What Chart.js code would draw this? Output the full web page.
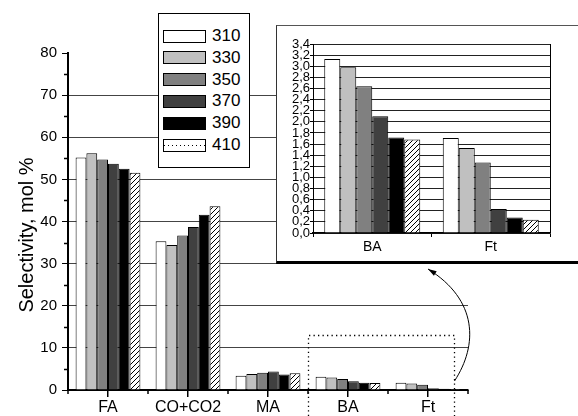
<!DOCTYPE html>
<html>
<head>
<meta charset="utf-8">
<script src="https://cdn.jsdelivr.net/npm/chart.js@4/dist/chart.umd.min.js"></script>
<style>
  html, body { margin: 0; padding: 0; background: #fff; }
  #wrap { position: relative; width: 578px; height: 416px; overflow: hidden; font-family: "Liberation Sans", Arial, sans-serif; }
  #mainChart { position: absolute; left: 0; top: 0; }
  #legend { position: absolute; left: 158px; top: 13px; width: 90px; height: 153px; background: #fff; border: 1px solid #000; }
  #legend .row { position: absolute; left: 4px; height: 20px; display: flex; align-items: center; }
  #legend .sw { display: inline-block; width: 43px; height: 13px; border: 1px solid #000; box-sizing: border-box; }
  #legend .lab { margin-left: 6px; font-size: 17px; color: #000; }
  #inset { position: absolute; left: 276px; top: 25px; width: 302px; height: 235px; background: #fff;
           border-left: 1px solid #333; border-top: 1px solid #555; border-bottom: 3px solid #000; }
  #insetChart { position: absolute; left: 0; top: 0; }
</style>
</head>
<body>
<div id="wrap">
  <canvas id="mainChart" width="578" height="416"></canvas>
  <div id="legend"></div>
  <div id="inset"><canvas id="insetChart" width="302" height="235"></canvas></div>
</div>
<script>
// data
const categories = ['FA', 'CO+CO2', 'MA', 'BA', 'Ft'];
const temps = ['310', '330', '350', '370', '390', '410'];
const s310 = [55.2, 35.3, 3.4, 3.13, 1.71];
const s330 = [56.2, 34.4, 3.8, 2.98, 1.53];
const s350 = [54.7, 36.7, 4.1, 2.64, 1.27];
const s370 = [53.7, 38.7, 4.4, 2.10, 0.43];
const s390 = [52.5, 41.6, 3.7, 1.72, 0.28];
const s410 = [51.6, 43.6, 4.0, 1.68, 0.24];
const series = [s310, s330, s350, s370, s390, s410];
const insetCategories = ['BA', 'Ft'];
const mainTicks = [0, 10, 20, 30, 40, 50, 60, 70, 80];
const insetMax = 3.4;

const FONT = '"Liberation Sans", Arial, sans-serif';

// hatch pattern for 410
function hatch() {
    const c = document.createElement('canvas');
    c.width = 5; c.height = 5;
    const g = c.getContext('2d');
    g.fillStyle = '#fff';
    g.fillRect(0, 0, 5, 5);
    g.strokeStyle = '#000';
    g.lineWidth = 1;
    g.beginPath();
    g.moveTo(0, 5); g.lineTo(5, 0);
    g.moveTo(-1, 1); g.lineTo(1, -1);
    g.moveTo(4, 6); g.lineTo(6, 4);
    g.stroke();
    return g.createPattern(c, 'repeat');
}
const fills = ['#ffffff', '#c0c0c0', '#808080', '#404040', '#000000', hatch()];

function makeDatasets(pick) {
    return series.map((s, i) => ({
        label: temps[i],
        data: pick(s),
        backgroundColor: fills[i],
        borderColor: '#000',
        borderWidth: 1,
        categoryPercentage: 0.81,
        barPercentage: 1
    }));
}

// legend (html)
const legend = document.getElementById('legend');
temps.forEach((t, i) => {
    const row = document.createElement('div');
    row.className = 'row';
    row.style.top = (12 + i * 21.8) + 'px';
    const sw = document.createElement('span');
    sw.className = 'sw';
    if (i === 5) {
        sw.style.background = 'repeating-linear-gradient(90deg,#000 0 1px,transparent 1px 4px) center/100% 1px no-repeat, #fff';
    } else {
        sw.style.background = fills[i];
    }
    const lab = document.createElement('span');
    lab.className = 'lab';
    lab.textContent = t;
    row.appendChild(sw);
    row.appendChild(lab);
    legend.appendChild(row);
});

// extras for the main chart: minor ticks, y title, dotted box, arrow
const mainExtras = {
    id: 'mainExtras',
    afterDraw(chart) {
        const ctx = chart.ctx;
        const x = chart.scales.x, y = chart.scales.y;
        const a = chart.chartArea;
        ctx.save();
        ctx.strokeStyle = '#000';
        ctx.lineWidth = 1.5;
        // y minor ticks
        ctx.beginPath();
        for (let v = 5; v < 80; v += 10) {
            const py = Math.round(y.getPixelForValue(v)) + 0.5;
            ctx.moveTo(a.left - 4, py); ctx.lineTo(a.left, py);
        }
        // x minor ticks on category boundaries
        for (let i = 0; i <= categories.length; i++) {
            const px = Math.round(x.getPixelForValue(i - 0.5));
            ctx.moveTo(px, a.bottom); ctx.lineTo(px, a.bottom + 4);
        }
        ctx.stroke();

        // y title
        ctx.fillStyle = '#000';
        ctx.font = '20px ' + FONT;
        ctx.textAlign = 'center';
        ctx.textBaseline = 'middle';
        ctx.translate(27, 235);
        ctx.rotate(-Math.PI / 2);
        ctx.fillText('Selectivity, mol %', 0, 0);
        ctx.restore();

        // dotted zoom box around BA / Ft
        ctx.save();
        ctx.strokeStyle = '#000';
        ctx.lineWidth = 1.3;
        ctx.setLineDash([1.3, 3.2]);
        const l = Math.round(x.getPixelForValue(2.5)) + 0.5;
        const r = Math.round(x.getPixelForValue(4.33)) + 0.5;
        const t = Math.round(y.getPixelForValue(13)) + 0.5;
        ctx.beginPath();
        ctx.moveTo(l, chart.height); ctx.lineTo(l, t); ctx.lineTo(r, t); ctx.lineTo(r, chart.height);
        ctx.stroke();
        ctx.setLineDash([]);

        // arrow to the inset
        const sx = r, sy = 381, ex = 428, ey = 269;
        const c1x = 478, c1y = 345, c2x = 478, c2y = 300;
        ctx.lineWidth = 1;
        ctx.beginPath();
        ctx.moveTo(sx, sy);
        ctx.bezierCurveTo(c1x, c1y, c2x, c2y, ex, ey);
        ctx.stroke();
        const ang = Math.atan2(ey - c2y, ex - c2x);
        ctx.fillStyle = '#000';
        ctx.beginPath();
        ctx.moveTo(ex, ey);
        ctx.lineTo(ex - 9 * Math.cos(ang - 0.3), ey - 9 * Math.sin(ang - 0.3));
        ctx.lineTo(ex - 9 * Math.cos(ang + 0.3), ey - 9 * Math.sin(ang + 0.3));
        ctx.closePath();
        ctx.fill();
        ctx.restore();
    }
};

new Chart(document.getElementById('mainChart'), {
    type: 'bar',
    data: { labels: categories, datasets: makeDatasets(s => s) },
    options: {
        responsive: false,
        animation: false,
        devicePixelRatio: 1,
        layout: { padding: { left: 0, right: 110, top: 53, bottom: 0 } },
        plugins: { legend: { display: false }, tooltip: { enabled: false } },
        scales: {
            x: {
                grid: { offset: false, drawOnChartArea: false, drawTicks: true, tickLength: 7, tickColor: '#000', lineWidth: 1.5 },
                border: { display: true, color: '#000', width: 2 },
                ticks: { color: '#000', font: { family: FONT, size: 16 }, padding: 1, maxRotation: 0 },
                afterFit: s => { s.height = 26; }
            },
            y: {
                min: 0, max: 80,
                afterBuildTicks: s => { s.ticks = mainTicks.map(v => ({ value: v })); },
                grid: {
                    color: c => (c.tick && (c.tick.value === 0 || c.tick.value === 80)) ? 'rgba(0,0,0,0)' : '#444',
                    tickColor: '#000', tickLength: 6, lineWidth: 1
                },
                border: { display: true, color: '#000', width: 2 },
                ticks: { color: '#000', font: { family: FONT, size: 15 }, padding: 5 },
                afterFit: s => { s.width = 68; }
            }
        }
    },
    plugins: [mainExtras]
});

// inset: frame on the plot area
const insetFrame = {
    id: 'insetFrame',
    afterDraw(chart) {
        const a = chart.chartArea, ctx = chart.ctx;
        ctx.save();
        ctx.strokeStyle = '#000';
        ctx.lineWidth = 1;
        ctx.beginPath();
        ctx.moveTo(Math.round(a.right) + 0.5, a.top);
        ctx.lineTo(Math.round(a.right) + 0.5, a.bottom);
        ctx.stroke();
        ctx.restore();
    }
};

new Chart(document.getElementById('insetChart'), {
    type: 'bar',
    data: { labels: insetCategories, datasets: makeDatasets(s => s.slice(3)) },
    options: {
        responsive: false,
        animation: false,
        devicePixelRatio: 1,
        layout: { padding: { left: 0, right: 29, top: 18, bottom: 0 } },
        plugins: { legend: { display: false }, tooltip: { enabled: false } },
        scales: {
            x: {
                grid: { offset: true, drawOnChartArea: false, drawTicks: true, tickLength: 4, tickColor: '#000' },
                border: { display: true, color: '#000', width: 1.5 },
                ticks: { color: '#000', font: { family: FONT, size: 14 }, padding: 2, maxRotation: 0 },
                afterFit: s => { s.height = 28; }
            },
            y: {
                min: 0, max: insetMax,
                grid: { color: '#222', tickColor: '#000', tickLength: 3, lineWidth: 1 },
                border: { display: true, color: '#000', width: 1 },
                ticks: {
                    stepSize: 0.2, autoSkip: false, color: '#000',
                    font: { family: FONT, size: 13, lineHeight: 0.85 }, padding: 0,
                    callback: v => Number(v).toFixed(1).replace('.', ',')
                },
                afterFit: s => { s.width = 36; }
            }
        }
    },
    plugins: [insetFrame]
});
</script>
</body>
</html>
